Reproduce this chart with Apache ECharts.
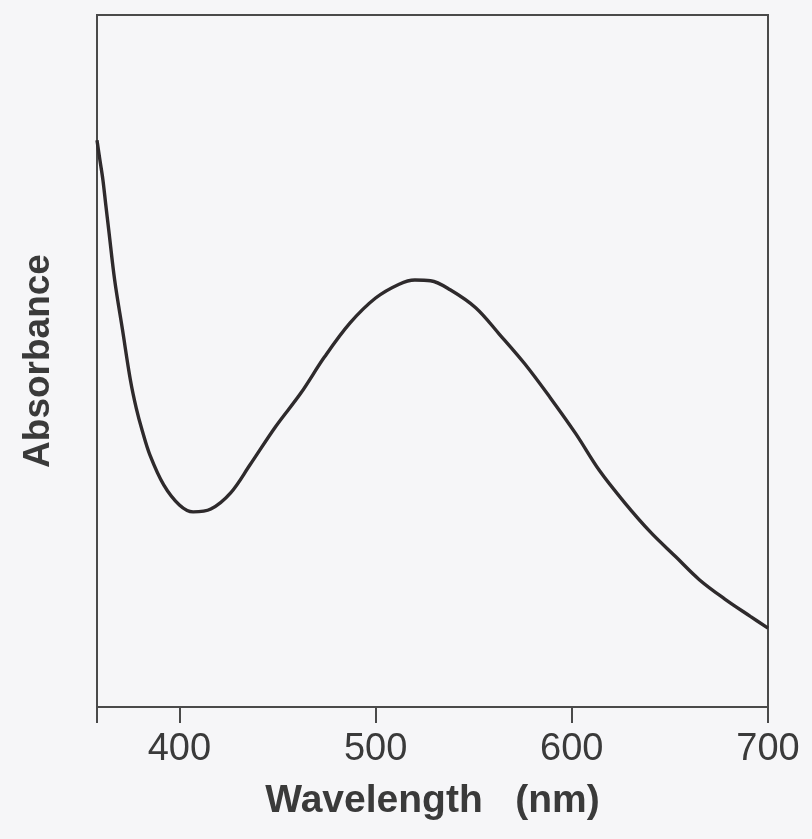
<!DOCTYPE html>
<html>
<head>
<meta charset="utf-8">
<script src="https://cdn.jsdelivr.net/npm/echarts@6/dist/echarts.min.js"></script>
<style>
html,body{margin:0;padding:0;background:#f6f6f8;}
#chart{width:812px;height:839px;}
</style>
</head>
<body>
<div id="chart"></div>
<script>
// Wavelength (nm) and absorbance (arbitrary units)
const wavelength = [358, 359.5, 361, 362.5, 364, 367, 371, 375, 378, 381, 385, 392, 400, 407, 416, 426, 436, 449, 462, 474, 487, 500, 512, 520, 528, 538, 551, 563, 576, 589, 602, 614, 627, 640, 653, 665, 678, 691, 700];
const absorbance = [0.819, 0.790, 0.762, 0.725, 0.689, 0.617, 0.545, 0.473, 0.432, 0.400, 0.364, 0.321, 0.292, 0.282, 0.286, 0.309, 0.350, 0.405, 0.454, 0.506, 0.555, 0.591, 0.611, 0.617, 0.616, 0.603, 0.577, 0.539, 0.496, 0.447, 0.395, 0.342, 0.295, 0.253, 0.217, 0.184, 0.156, 0.131, 0.114];
const tickValues = [358, 400, 500, 600, 700];
const tickLabels = [400, 500, 600, 700];
const xTitle = 'Wavelength   (nm)';
const yTitle = 'Absorbance';

const seriesData = wavelength.map((w, i) => [w, absorbance[i]]);
const font = '"Liberation Sans", Arial, Helvetica, sans-serif';
const textColor = '#3a3a3a';
const axisColor = '#4a4a4a';

const chart = echarts.init(document.getElementById('chart'));
chart.setOption({
  backgroundColor: '#f6f6f8',
  animation: false,
  grid: {
    left: 97, right: 44, top: 15, bottom: 132,
    show: true, borderColor: axisColor, borderWidth: 2, backgroundColor: 'transparent'
  },
  xAxis: {
    type: 'value', min: 358, max: 700,
    name: xTitle, nameLocation: 'middle', nameGap: 75,
    nameTextStyle: { fontFamily: font, fontSize: 39, fontWeight: 'bold', color: textColor },
    axisLine: { show: true, lineStyle: { color: axisColor, width: 2 } },
    axisTick: { show: true, length: 16, customValues: tickValues, lineStyle: { color: axisColor, width: 2 } },
    axisLabel: { show: true, customValues: tickLabels, margin: 24, fontFamily: font, fontSize: 38, color: textColor },
    splitLine: { show: false }
  },
  yAxis: {
    type: 'value', min: 0, max: 1,
    name: yTitle, nameLocation: 'middle', nameGap: 40, nameRotate: 90,
    nameTextStyle: { fontFamily: font, fontSize: 37, fontWeight: 'bold', color: textColor },
    axisLine: { show: true, lineStyle: { color: axisColor, width: 2 } },
    axisTick: { show: false },
    axisLabel: { show: false },
    splitLine: { show: false }
  },
  series: [{
    type: 'line', data: seriesData, smooth: 0.35, symbol: 'none',
    lineStyle: { color: '#2e2a2c', width: 3.4 }
  }]
});
</script>
</body>
</html>
